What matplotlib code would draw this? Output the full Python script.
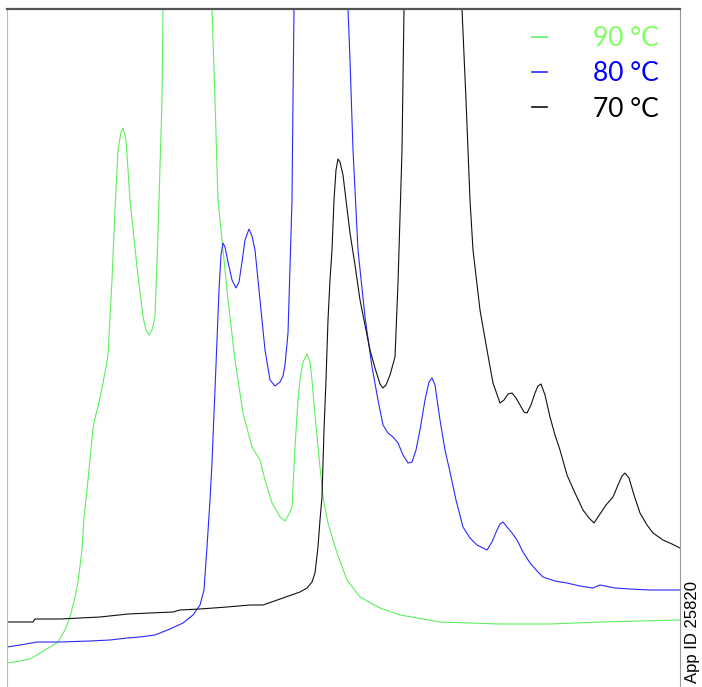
import matplotlib
matplotlib.use("Agg")
import matplotlib.pyplot as plt

# ---- data (arbitrary time units, arbitrary intensity units) ----
t_90 = [7, 20, 30, 40, 50, 58, 65, 70, 75, 78, 82, 84, 87, 90, 93, 96, 98, 103, 106, 108,
        112, 115, 118, 121, 123, 126, 130, 137, 143, 146, 149, 152, 155, 158, 160, 162, 163,
        165, 187, 209, 212, 215, 217, 218, 222, 228, 235, 238, 243, 252, 260, 265, 272, 280,
        285, 290, 292, 295, 298, 300, 303, 307, 310, 312, 315, 318, 323, 328, 337, 347, 360,
        380, 400, 440, 500, 550, 600, 640, 680]
i_90 = [24, 26, 28, 34, 40, 45, 57, 70, 90, 105, 137, 170, 197, 227, 259, 273, 280, 304, 320, 332,
        407, 477, 537, 555, 559, 547, 487, 420, 370, 357, 352, 357, 370, 454, 520, 587, 678,
        837, 1187, 837, 678, 587, 520, 487, 447, 387, 327, 307, 274, 240, 227, 207, 184, 170,
        166, 175, 180, 240, 287, 307, 325, 333, 325, 307, 272, 240, 190, 164, 134, 107, 90,
        79, 72, 65, 63, 63, 65, 66, 67]

t_80 = [7, 20, 37, 60, 90, 110, 127, 140, 155, 170, 183, 193, 200, 204, 207, 210, 212, 214,
        215, 217, 219, 221, 223, 225, 228, 232, 236, 239, 242, 245, 249, 252, 255, 260, 265,
        270, 275, 280, 283, 285, 288, 290, 292, 293, 294, 300, 320, 340, 348, 350, 353, 358,
        365, 372, 378, 383, 388, 393, 398, 403, 408, 412, 416, 420, 425, 429, 432, 435, 440,
        445, 450, 456, 463, 470, 477, 487, 492, 497, 500, 503, 507, 512, 517, 523, 530, 537,
        543, 555, 567, 580, 593, 600, 615, 630, 650, 680]
i_80 = [40, 42, 45, 45, 46, 47, 49, 50, 52, 58, 64, 72, 82, 97, 140, 187, 224, 274,
        297, 347, 397, 432, 444, 440, 425, 407, 399, 405, 425, 447, 458, 451, 437, 387, 337,
        307, 301, 305, 311, 322, 354, 420, 487, 587, 678, 987, 1387, 987, 678, 627, 537, 437,
        370, 320, 287, 262, 254, 250, 244, 232, 224, 225, 237, 257, 287, 305, 309, 302, 267,
        237, 215, 187, 160, 149, 142, 137, 145, 157, 163, 165, 160, 154, 147, 135, 124, 116,
        110, 106, 104, 101, 99, 102, 99, 98, 97, 97]

t_70 = [7, 20, 33, 35, 60, 80, 100, 128, 150, 173, 180, 200, 227, 250, 263, 283, 300, 307,
        312, 315, 318, 320, 322, 324, 326, 328, 330, 332, 334, 336, 338, 340, 343, 346, 350,
        355, 360, 365, 370, 375, 380, 383, 386, 390, 395, 398, 400, 402, 403, 404, 430, 462,
        466, 470, 473, 480, 487, 493, 500, 504, 508, 512, 516, 520, 524, 527, 531, 535, 538,
        541, 545, 550, 555, 560, 567, 575, 583, 589, 594, 600, 606, 613, 618, 622, 625, 629,
        634, 640, 647, 653, 663, 672, 680]
i_70 = [65, 65, 65, 68, 68, 69, 70, 73, 74, 75, 77, 78, 80, 82, 82, 89, 95, 99,
        105, 114, 140, 167, 190, 257, 307, 367, 407, 437, 487, 517, 528, 525, 512, 487, 454,
        422, 387, 362, 337, 319, 303, 299, 302, 312, 330, 404, 470, 537, 607, 678, 1487, 678,
        587, 487, 437, 377, 337, 304, 284, 287, 293, 294, 289, 282, 275, 274, 282, 294, 301,
        303, 292, 270, 252, 237, 212, 194, 177, 169, 164, 173, 182, 190, 202, 211, 214, 209,
        192, 174, 162, 154, 147, 143, 139]

labels = ["90 \u00b0C", "80 \u00b0C", "70 \u00b0C"]
line_colors = ["#5ef05e", "#2a2aff", "#111111"]
text_colors = ["#80ff60", "#0000ff", "#000000"]

# ---- figure ----
W, H = 702, 687
fig = plt.figure(figsize=(W / 100, H / 100), dpi=100)
ax = fig.add_axes([7 / W, 0, (680 - 7) / W, (H - 9) / H])

for t, v, c, lab in zip([t_90, t_80, t_70], [i_90, i_80, i_70], line_colors, labels):
    ax.plot(t, v, color=c, lw=0.8, label=lab)

ax.set_xlim(7, 680)
ax.set_ylim(0, 678)
ax.set_xticks([])
ax.set_yticks([])
ax.spines["bottom"].set_visible(False)
ax.spines["top"].set_color("#555555")
ax.spines["top"].set_linewidth(1.6)
ax.spines["left"].set_color("#bbbbbb")
ax.spines["left"].set_linewidth(0.8)
ax.spines["right"].set_color("#999999")
ax.spines["right"].set_linewidth(0.8)

leg = ax.legend(loc="upper right", bbox_to_anchor=(0.968, 0.975), frameon=False,
                handlelength=0.55, handletextpad=1.75, labelspacing=0.39,
                borderpad=0, borderaxespad=0,
                prop={"family": "Lato", "size": 19})
for txt, col in zip(leg.get_texts(), text_colors):
    txt.set_color(col)
for h in leg.get_lines():
    h.set_linewidth(1.2)

fig.text(692 / W, 4 / H, "App ID 25820", rotation=90, ha="center", va="bottom",
         fontsize=12, family="Liberation Sans", color="#000000")

fig.savefig("out.png", dpi=100)
